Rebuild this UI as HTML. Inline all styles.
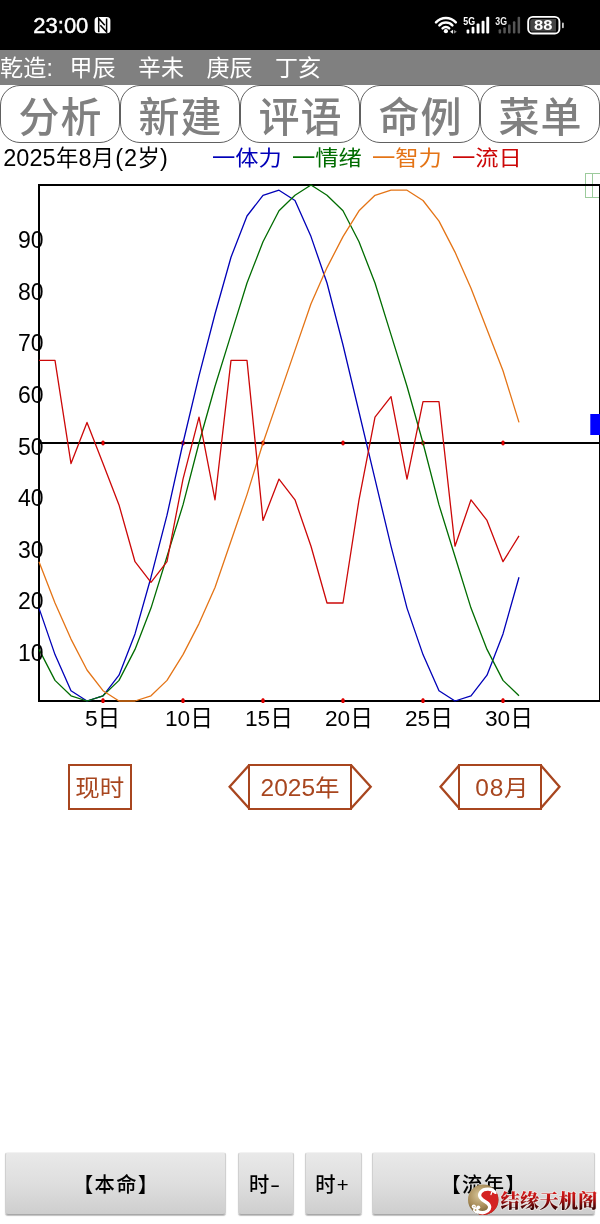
<!DOCTYPE html>
<html lang="zh-CN"><head><meta charset="utf-8"><title>生物节律</title>
<style>
html,body{margin:0;padding:0}
body{width:600px;height:1224px;position:relative;overflow:hidden;background:#fff;font-family:"Liberation Sans", "Noto Sans CJK SC", sans-serif;color:#000}
.abs{position:absolute;white-space:nowrap}
#status{left:0;top:0;width:600px;height:50px;background:#000}
#time{left:33.300px;top:14px;font-size:22px;line-height:24px;color:#fff;-webkit-text-stroke:.450px #fff}
#bar{left:0;top:50px;width:600px;height:35px;background:#808080}
#bar span{position:absolute;top:1.3px;line-height:35px;font-size:23px;color:#fff;white-space:nowrap}
.tab{position:absolute;top:85px;height:58px;width:120.5px;box-sizing:border-box;border:1px solid #606060;border-radius:20px;background:#fff;color:#808080;font-size:41px;letter-spacing:1px;text-indent:1.5px;line-height:65px;font-weight:500;text-align:center;white-space:nowrap}
#info span{position:absolute;top:145.2px;line-height:26px;font-size:23.3px;white-space:nowrap;transform:scaleY(.9);transform-origin:0 50%}
#info span.d{font-size:22.3px;letter-spacing:0;top:145.4px;transform:none}
#info span.d i{font-style:normal;font-size:23.5px;margin:0 .3px}
svg text{font-family:"Liberation Sans", "Noto Sans CJK SC", sans-serif}
svg text.wm{font-family:"Liberation Serif","Noto Serif CJK SC",serif}
.sel{position:absolute;top:764px;height:45.500px;box-sizing:border-box;border:2.300px solid #a8461f;color:#a8461f;font-size:24.500px;line-height:43.500px;text-align:center;white-space:nowrap}
.sel span{display:inline-block;transform:scaleY(.94);transform-origin:50% 55%}
.btn{position:absolute;top:1152px;height:63px;box-sizing:border-box;border:1px solid #d0d0d0;border-top-color:#f2f2f2;border-bottom-color:#a8a8a8;border-radius:3px;background:linear-gradient(#e9e9e9,#dedede 50%,#cecece);box-shadow:0 1px 1px rgba(0,0,0,.25);font-size:20.3px;letter-spacing:1.3px;text-indent:1.3px;font-weight:500;line-height:64px;text-align:center;white-space:nowrap;color:#000}
</style></head><body>
<div id="status" class="abs"></div>
<div id="time" class="abs">23:00</div>
<svg class="abs" style="left:90px;top:10px" width="480" height="30" viewBox="90 10 480 30">
<!-- nfc -->
<rect x="94.6" y="17.1" width="15.8" height="16.2" rx="3.6" fill="#fff"/>
<path d="M98.7 32.3V18.4L104.8 25.2M100.3 25.2L106.6 32.1V18.6" fill="none" stroke="#000" stroke-width="1.5" stroke-linejoin="miter"/>
<!-- wifi -->
<g fill="none" stroke="#fff" stroke-width="2.5" stroke-linecap="round">
<path d="M436.0 22.3A13.5 13.5 0 0 1 455.8 22.3"/>
<path d="M439.4 25.4A8.9 8.9 0 0 1 452.4 25.4"/>
<path d="M442.6 28.3A4.6 4.6 0 0 1 449.2 28.3"/>
</g>
<circle cx="445.9" cy="31.2" r="2.1" fill="#fff"/>
<path d="M450 31.7l3-2v4z" fill="#eee"/><path d="M456.8 31.7l-3-2v4z" fill="#888"/>
<!-- 5G -->
<text x="463.3" y="24.6" font-size="10.3" font-weight="bold" fill="#fff" textLength="11.8" lengthAdjust="spacingAndGlyphs">5G</text>
<g fill="#fff"><rect x="466.6" y="29.5" width="2.7" height="3.9" rx=".9"/><rect x="471.6" y="26.8" width="2.8" height="6.6" rx="1"/><rect x="476.6" y="23.5" width="2.9" height="9.9" rx="1"/><rect x="481.6" y="20.8" width="2.9" height="12.6" rx="1"/><rect x="486.3" y="16.7" width="2.9" height="16.7" rx="1"/></g>
<!-- 3G -->
<text x="495.3" y="24.5" font-size="10.3" font-weight="bold" fill="#f0f0f0" textLength="11.7" lengthAdjust="spacingAndGlyphs">3G</text>
<g fill="#555"><rect x="498.6" y="29.3" width="2.5" height="4.1" rx=".9"/><rect x="503.3" y="27.3" width="2.5" height="6.1" rx="1"/><rect x="508" y="24.4" width="2.6" height="9" rx="1"/><rect x="512.9" y="21.3" width="2.5" height="12.1" rx="1"/><rect x="517.6" y="16.7" width="2.5" height="16.7" rx="1"/></g>
<!-- battery -->
<rect x="528.2" y="16.9" width="31.2" height="16.6" rx="4.6" fill="#000" stroke="#fff" stroke-width="1.9"/>
<path d="M530.2 21.5a2.6 2.6 0 0 1 2.6-2.6H556V31.5H532.8a2.6 2.6 0 0 1-2.6-2.6z" fill="#444"/>
<rect x="562" y="22.6" width="1.8" height="5.6" rx=".9" fill="#ccc"/>
<text x="534" y="30.1" font-size="15.2" font-weight="bold" fill="#fff" textLength="18.4" lengthAdjust="spacingAndGlyphs">88</text>
</svg>
<div id="bar" class="abs"><span style="left:0;letter-spacing:.300px">乾造:</span><span style="left:69.5px">甲辰</span><span style="left:138px">辛未</span><span style="left:206.5px">庚辰</span><span style="left:275px">丁亥</span></div>
<div class="tab" style="left:-0.5px">分析</div><div class="tab" style="left:119.5px">新建</div><div class="tab" style="left:239.5px">评语</div><div class="tab" style="left:359.5px">命例</div><div class="tab" style="left:479.5px">菜单</div>
<div id="info"><span class="d" style="left:3px"><i>2025</i>年<i>8</i>月<i style="margin-left:1px">(</i><i style="margin-left:.8px">2</i>岁<i>)</i></span><span style="left:212px;color:#0000b8">一体力</span><span style="left:292px;color:#006c00">一情绪</span><span style="left:372px;color:#e47416">一智力</span><span style="left:452px;color:#cc0808">一流日</span></div>
<svg id="chart" width="600" height="600" viewBox="0 170 600 600" style="position:absolute;left:0;top:170px">
<g stroke="#9ccb9c" stroke-width="1" fill="none"><rect x="585.5" y="173.5" width="15" height="24"/><line x1="592.5" y1="173.5" x2="592.5" y2="197.5"/><line x1="585.5" y1="185.5" x2="600" y2="185.5"/></g>
<rect x="39" y="185" width="561" height="516" fill="none" stroke="#000" stroke-width="2"/>
<rect x="101.65" y="440.700" width="2.700" height="4.600" rx="1" fill="#e00000"/>
<rect x="101.65" y="698.500" width="2.700" height="4.600" rx="1" fill="#e00000"/>
<rect x="181.65" y="440.700" width="2.700" height="4.600" rx="1" fill="#e00000"/>
<rect x="181.65" y="698.500" width="2.700" height="4.600" rx="1" fill="#e00000"/>
<rect x="261.65" y="440.700" width="2.700" height="4.600" rx="1" fill="#e00000"/>
<rect x="261.65" y="698.500" width="2.700" height="4.600" rx="1" fill="#e00000"/>
<rect x="341.65" y="440.700" width="2.700" height="4.600" rx="1" fill="#e00000"/>
<rect x="341.65" y="698.500" width="2.700" height="4.600" rx="1" fill="#e00000"/>
<rect x="421.65" y="440.700" width="2.700" height="4.600" rx="1" fill="#e00000"/>
<rect x="421.65" y="698.500" width="2.700" height="4.600" rx="1" fill="#e00000"/>
<rect x="501.65" y="440.700" width="2.700" height="4.600" rx="1" fill="#e00000"/>
<rect x="501.65" y="698.500" width="2.700" height="4.600" rx="1" fill="#e00000"/>
<line x1="39" y1="443" x2="600" y2="443" stroke="#000" stroke-width="2"/>
<rect x="101.65" y="440.700" width="2.700" height="4.600" rx="1" fill="#e00000"/>
<rect x="101.65" y="698.500" width="2.700" height="4.600" rx="1" fill="#e00000"/>
<rect x="181.65" y="440.700" width="2.700" height="4.600" rx="1" fill="#e00000"/>
<rect x="181.65" y="698.500" width="2.700" height="4.600" rx="1" fill="#e00000"/>
<rect x="261.65" y="440.700" width="2.700" height="4.600" rx="1" fill="#e00000"/>
<rect x="261.65" y="698.500" width="2.700" height="4.600" rx="1" fill="#e00000"/>
<rect x="341.65" y="440.700" width="2.700" height="4.600" rx="1" fill="#e00000"/>
<rect x="341.65" y="698.500" width="2.700" height="4.600" rx="1" fill="#e00000"/>
<rect x="421.65" y="440.700" width="2.700" height="4.600" rx="1" fill="#e00000"/>
<rect x="421.65" y="698.500" width="2.700" height="4.600" rx="1" fill="#e00000"/>
<rect x="501.65" y="440.700" width="2.700" height="4.600" rx="1" fill="#e00000"/>
<rect x="501.65" y="698.500" width="2.700" height="4.600" rx="1" fill="#e00000"/>
<polyline points="39.0,608.1 55.0,654.6 71.0,690.7 87.0,701.0 103.0,695.8 119.0,675.2 135.0,633.9 151.0,577.2 167.0,515.2 183.0,443.0 199.0,375.9 215.0,314.0 231.0,257.2 247.0,216.0 263.0,195.3 279.0,190.2 295.0,200.5 311.0,236.6 327.0,283.0 343.0,345.0 359.0,412.0 375.0,479.1 391.0,546.2 407.0,608.1 423.0,654.6 439.0,690.7 455.0,701.0 471.0,695.8 487.0,675.2 503.0,633.9 519.0,577.2" fill="none" stroke="#0000b8" stroke-width="1.3" stroke-linejoin="round"/>
<polyline points="39.0,649.4 55.0,680.4 71.0,695.8 87.0,701.0 103.0,695.8 119.0,680.4 135.0,649.4 151.0,608.1 167.0,556.5 183.0,504.9 199.0,443.0 215.0,386.2 231.0,334.6 247.0,283.0 263.0,241.8 279.0,210.8 295.0,195.3 311.0,185.0 327.0,195.3 343.0,210.8 359.0,241.8 375.0,283.0 391.0,334.6 407.0,386.2 423.0,443.0 439.0,504.9 455.0,556.5 471.0,608.1 487.0,649.4 503.0,680.4 519.0,695.8" fill="none" stroke="#006c00" stroke-width="1.3" stroke-linejoin="round"/>
<polyline points="39.0,561.7 55.0,603.0 71.0,639.1 87.0,670.0 103.0,690.7 119.0,701.0 135.0,701.0 151.0,695.8 167.0,680.4 183.0,654.6 199.0,623.6 215.0,587.5 231.0,541.0 247.0,494.6 263.0,443.0 279.0,396.6 295.0,350.1 311.0,303.7 327.0,267.6 343.0,236.6 359.0,210.8 375.0,195.3 391.0,190.2 407.0,190.2 423.0,200.5 439.0,221.1 455.0,252.1 471.0,288.2 487.0,329.5 503.0,370.8 519.0,422.4" fill="none" stroke="#e47416" stroke-width="1.3" stroke-linejoin="round"/>
<polyline points="39.0,360.4 55.0,360.4 71.0,463.6 87.0,422.4 103.0,463.6 119.0,504.9 135.0,561.7 151.0,582.3 167.0,561.7 183.0,479.1 199.0,417.2 215.0,499.8 231.0,360.4 247.0,360.4 263.0,520.4 279.0,479.1 295.0,499.8 311.0,546.2 327.0,603.0 343.0,603.0 359.0,499.8 375.0,417.2 391.0,396.6 407.0,479.1 423.0,401.7 439.0,401.7 455.0,546.2 471.0,499.8 487.0,520.4 503.0,561.7 519.0,535.9" fill="none" stroke="#cc0808" stroke-width="1.3" stroke-linejoin="round"/>
<rect x="590.3" y="414" width="10" height="21" fill="#0000ff"/>
<text x="43.5" y="660.9" text-anchor="end" font-size="23" fill="#000">10</text>
<text x="43.5" y="609.3" text-anchor="end" font-size="23" fill="#000">20</text>
<text x="43.5" y="557.7" text-anchor="end" font-size="23" fill="#000">30</text>
<text x="43.5" y="506.1" text-anchor="end" font-size="23" fill="#000">40</text>
<text x="43.5" y="454.5" text-anchor="end" font-size="23" fill="#000">50</text>
<text x="43.5" y="402.9" text-anchor="end" font-size="23" fill="#000">60</text>
<text x="43.5" y="351.3" text-anchor="end" font-size="23" fill="#000">70</text>
<text x="43.5" y="299.7" text-anchor="end" font-size="23" fill="#000">80</text>
<text x="43.5" y="248.1" text-anchor="end" font-size="23" fill="#000">90</text>
<text x="85" y="726" font-size="22.7" fill="#000">5日</text>
<text x="165" y="726" font-size="22.7" fill="#000">10日</text>
<text x="245" y="726" font-size="22.7" fill="#000">15日</text>
<text x="325" y="726" font-size="22.7" fill="#000">20日</text>
<text x="405" y="726" font-size="22.7" fill="#000">25日</text>
<text x="485" y="726" font-size="22.7" fill="#000">30日</text>
</svg>
<div class="sel" style="left:68px;width:63.5px"><span>现时</span></div>
<div class="sel" style="left:247.800px;width:104.500px"><span>2025年</span></div>
<div class="sel" style="left:458px;width:84px"><span style="position:relative;left:2.300px;letter-spacing:.700px">08月</span></div>
<svg class="abs" style="left:0;top:750px" width="600" height="80" viewBox="0 750 600 80"><g fill="none" stroke="#a8461f" stroke-width="2.300" stroke-linejoin="miter">
<polyline points="249,765.200 229.600,786.700 249,808.300"/><polyline points="351.200,765.200 370.700,786.700 351.200,808.300"/>
<polyline points="459.200,765.200 440.500,786.700 459.200,808.300"/><polyline points="540.800,765.200 559.500,786.700 540.800,808.300"/></g></svg>
<div class="btn" style="left:5px;width:221px">【本命】</div>
<div class="btn" style="left:237.5px;width:56px;text-indent:-1px">时<span style="display:inline-block;transform:scaleX(1.500);margin:0 1.300px;text-indent:0">-</span></div>
<div class="btn" style="left:304.5px;width:57px;text-indent:-1px">时+</div>
<div class="btn" style="left:371.5px;width:223px">【流年】</div>
<svg class="abs" style="left:460px;top:1180px" width="140" height="44" viewBox="460 1180 140 44">
<defs>
<radialGradient id="gold" cx="0.38" cy="0.35" r="0.7"><stop offset="0" stop-color="#d8c79a"/><stop offset=".55" stop-color="#a88c58"/><stop offset="1" stop-color="#5e4a22"/></radialGradient>
<linearGradient id="rt" gradientUnits="userSpaceOnUse" x1="0" y1="1190" x2="0" y2="1210"><stop offset="0" stop-color="#dc1c1c"/><stop offset=".45" stop-color="#b41010"/><stop offset="1" stop-color="#2c0404"/></linearGradient>
<clipPath id="cc"><circle cx="483.2" cy="1199.8" r="15.2"/></clipPath>
</defs>
<circle cx="483.2" cy="1199.8" r="15.2" fill="url(#gold)"/>
<g clip-path="url(#cc)">
<path d="M500 1189L495.300 1192.300C492.500 1188.300 484 1188 480.800 1192 477.800 1196 481 1199.300 485 1201.500 490 1204.200 491.200 1208 487.500 1211 485 1212.800 481 1213.200 478.500 1212L479 1217H500z" fill="#d42222"/>
<path d="M495.300 1192.300C492.500 1188.300 484 1188 480.800 1192 477.800 1196 481 1199.300 485 1201.500 490 1204.200 491.200 1208 487.500 1211 485 1212.800 481 1213.200 477.500 1211.500" fill="none" stroke="#fff" stroke-width="3.300" stroke-linecap="round" stroke-linejoin="round"/>
<path d="M491 1194.500c0.300-3.300 3.600-5 5.600-3.200M493.200 1189c1-1.600 3-1.800 4-0.600" fill="none" stroke="#fff" stroke-width="1.300" stroke-linecap="round"/>
<circle cx="475.800" cy="1210.300" r="2.700" fill="#fff"/><circle cx="473.800" cy="1206.600" r="2.100" fill="#fff"/><circle cx="478.300" cy="1207.300" r="1.900" fill="#fff"/><circle cx="476.400" cy="1213.300" r="1.800" fill="#fff"/>
<circle cx="475.600" cy="1210" r="0.900" fill="#b89a62"/><circle cx="474" cy="1206.600" r="0.700" fill="#b89a62"/>
</g>
<text class="wm" x="500.500" y="1208.200" font-size="19.400" font-weight="900" fill="url(#rt)" stroke="#f6efec" stroke-opacity=".6" stroke-width="1.900" stroke-linejoin="round" paint-order="stroke">结缘天机阁</text>
</svg>
</body></html>
